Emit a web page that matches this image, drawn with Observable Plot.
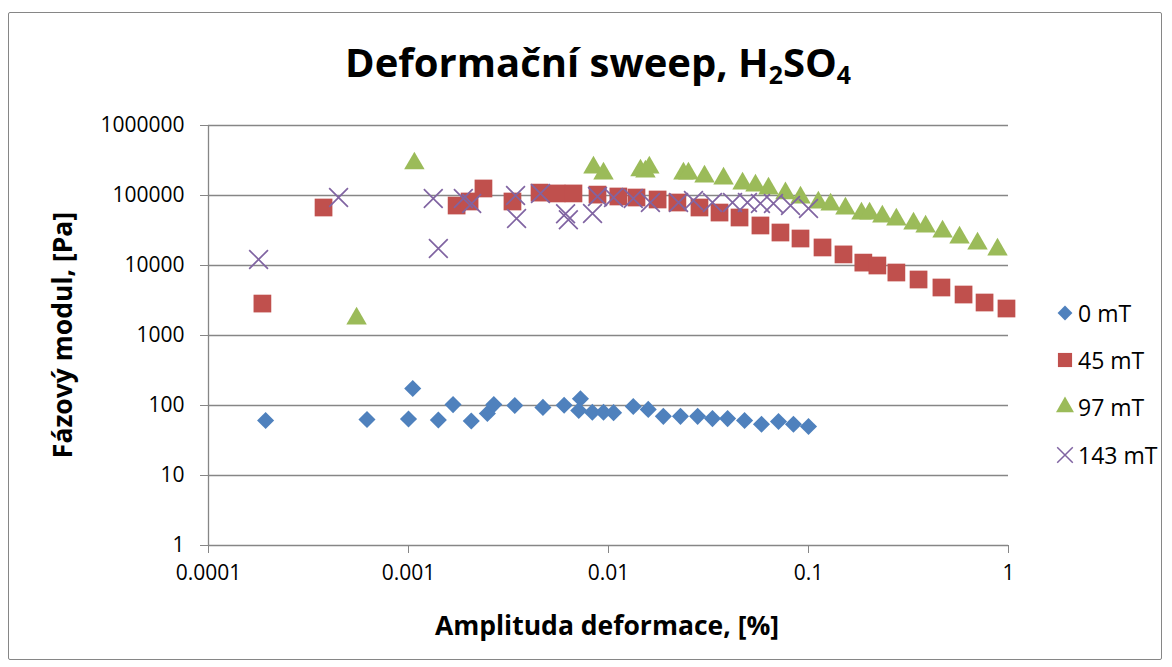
<!DOCTYPE html>
<html>
<head>
<meta charset="utf-8">
<script src="https://cdn.jsdelivr.net/npm/d3@7"></script>
<script src="https://cdn.jsdelivr.net/npm/@observablehq/plot@0.6"></script>
<style>
  html, body { margin: 0; padding: 0; background: #fff; }
  #wrap { position: relative; width: 1172px; height: 667px; overflow: hidden; font-family: "Open Sans", sans-serif; }
  #frame { position: absolute; left: 8px; top: 12px; width: 1154px; height: 648px; border: 1px solid #868686; border-radius: 2px; box-sizing: border-box; }
  #chart { position: absolute; left: 0; top: 0; }
  #title { position: absolute; left: 0; width: 1196px; top: 34px; text-align: center; font-weight: bold; font-size: 40px; color: #000; white-space: nowrap; }
  #title sub { font-size: 0.62em; vertical-align: -0.3em; line-height: 0; }
  #ylab { position: absolute; left: 62px; top: 335px; transform: translate(-50%, -50%) rotate(-90deg); font-weight: bold; font-size: 26.5px; white-space: nowrap; }
  #xlab { position: absolute; left: 607px; top: 625px; transform: translate(-50%, -50%); font-weight: bold; font-size: 26.5px; white-space: nowrap; }
  #legend { position: absolute; left: 1054px; top: 289px; font-size: 23px; }
  .item { display: flex; align-items: center; height: 47.3px; }
  .item svg { margin-right: 2px; }
  g[aria-label="x-axis tick"], g[aria-label="y-axis tick"] { stroke: #868686; }
</style>
</head>
<body>
<div id="wrap">
  <div id="frame"></div>
  <div id="chart"></div>
  <div id="title">Deformační sweep, H<sub>2</sub>SO<sub>4</sub></div>
  <div id="ylab">Fázový modul, [Pa]</div>
  <div id="xlab">Amplituda deformace, [%]</div>
  <div id="legend"></div>
</div>
<script>
// ---- Data ----
const seriesNames = ["0 mT", "45 mT", "97 mT", "143 mT"];
const seriesColors = ["#4F81BD", "#C0504D", "#9BBB59", "#8064A2"];

const x0 = [0.000193, 0.00062, 0.001, 0.00105, 0.00141, 0.00167, 0.00206, 0.00248, 0.00267, 0.0034, 0.0047, 0.006, 0.0071, 0.00724, 0.0083, 0.00944, 0.0106, 0.0133, 0.0158, 0.0188, 0.0229, 0.0279, 0.0331, 0.0394, 0.0479, 0.0582, 0.0708, 0.0841, 0.1];
const y0 = [61, 63, 64, 175, 62, 103, 60, 77, 103, 100, 94, 101, 85, 125, 80, 80, 79, 97, 88, 70, 70, 70, 65, 65, 61, 54, 59, 54, 50];

const x45 = [0.000186, 0.000376, 0.00174, 0.00202, 0.00237, 0.00331, 0.00452, 0.0055, 0.00668, 0.00881, 0.0112, 0.0138, 0.0176, 0.0221, 0.0285, 0.0359, 0.0452, 0.0575, 0.0724, 0.0912, 0.1175, 0.1496, 0.188, 0.221, 0.275, 0.355, 0.462, 0.596, 0.759, 0.977];
const y45 = [2860, 67400, 71900, 82100, 126000, 82100, 110000, 107000, 107000, 103000, 96800, 93600, 87700, 79400, 67400, 57100, 48500, 37300, 29600, 24300, 18100, 14400, 11000, 10000, 7940, 6310, 4850, 3850, 2960, 2430];

const x97 = [0.00055, 0.00107, 0.00841, 0.00944, 0.01445, 0.0153, 0.016, 0.0237, 0.0251, 0.0302, 0.0376, 0.0468, 0.0543, 0.0631, 0.0767, 0.0912, 0.112, 0.129, 0.153, 0.184, 0.202, 0.234, 0.275, 0.335, 0.385, 0.468, 0.569, 0.7, 0.881];
const y97 = [1750, 287000, 251000, 206000, 228000, 220000, 251000, 206000, 206000, 187000, 175000, 148000, 139000, 126000, 107000, 93600, 79400, 74400, 65200, 55300, 55300, 50100, 45400, 39800, 36100, 30600, 25100, 20600, 16900];

const x143 = [0.000178, 0.000447, 0.00133, 0.00141, 0.00188, 0.00207, 0.00343, 0.00347, 0.00457, 0.0061, 0.0063, 0.00832, 0.00881, 0.0106, 0.0133, 0.0162, 0.0224, 0.0266, 0.0331, 0.0417, 0.0495, 0.0575, 0.0668, 0.0813, 0.1];
const y143 = [12200, 93600, 90600, 17500, 90600, 76900, 100000, 46900, 107000, 55000, 45000, 55300, 96800, 93600, 90600, 79400, 79400, 84800, 79400, 79400, 79400, 76900, 76900, 71900, 65200];

const xTicks = [0.0001, 0.001, 0.01, 0.1, 1];
const xTickLabels = ["0.0001", "0.001", "0.01", "0.1", "1"];
const yTicks = [1, 10, 100, 1000, 10000, 100000, 1000000];
const yTickLabels = ["1", "10", "100", "1000", "10000", "100000", "1000000"];

// ---- Build tables ----
const toRows = (xs, ys) => xs.map((x, i) => ({x, y: ys[i]}));
const d0 = toRows(x0, y0), d45 = toRows(x45, y45), d97 = toRows(x97, y97), d143 = toRows(x143, y143);

const grid = "#868686";
const chart = Plot.plot({
  width: 1172,
  height: 667,
  marginLeft: 208,
  marginRight: 164,
  marginTop: 125,
  marginBottom: 122,
  style: {fontFamily: "'Open Sans', sans-serif", fontSize: "21px", color: "#000", background: "transparent"},
  x: {type: "log", domain: [1e-4, 1]},
  y: {type: "log", domain: [1, 1e6]},
  marks: [
    Plot.ruleY(yTicks.slice(1), {stroke: grid, strokeWidth: 1.3}),
    Plot.ruleY([1], {stroke: grid, strokeWidth: 1.3}),
    Plot.ruleX([1e-4], {stroke: grid, strokeWidth: 1.3}),
    Plot.axisX({ticks: xTicks, tickFormat: d => xTickLabels[xTicks.indexOf(d)], tickSize: 8, tickPadding: 12, label: null}),
    Plot.axisY({ticks: yTicks, tickFormat: d => yTickLabels[yTicks.indexOf(d)], tickSize: 8, tickPadding: 16, label: null}),
    Plot.dot(d0, {x: "x", y: "y", symbol: "diamond2", fill: seriesColors[0], r: 7.7}),
    Plot.dot(d45, {x: "x", y: "y", symbol: "square", fill: seriesColors[1], r: 10}),
    Plot.dot(d97, {x: "x", y: "y", symbol: "triangle", fill: seriesColors[2], r: 7.6}),
    Plot.dot(d143, {x: "x", y: "y", symbol: "times", stroke: seriesColors[3], strokeWidth: 1.7, fill: "none", r: 8.6})
  ]
});
document.getElementById("chart").appendChild(chart);

// ---- Legend ----
const legendSymbols = [
  {type: d3.symbolDiamond2, size: 140, fill: seriesColors[0]},
  {type: d3.symbolSquare, size: 200, fill: seriesColors[1]},
  {type: d3.symbolTriangle, size: 140, fill: seriesColors[2]},
  {type: d3.symbolTimes, size: 160, stroke: seriesColors[3]}
];
const legend = document.getElementById("legend");
seriesNames.forEach((name, i) => {
  const s = legendSymbols[i];
  const item = document.createElement("div");
  item.className = "item";
  const path = d3.symbol(s.type, s.size)();
  const style = s.stroke ? `fill="none" stroke="${s.stroke}" stroke-width="1.5"` : `fill="${s.fill}"`;
  item.innerHTML = `<svg width="22" height="22" viewBox="-11 -11 22 22"><path d="${path}" ${style}></path></svg><span>${name}</span>`;
  legend.appendChild(item);
});
</script>
</body>
</html>
